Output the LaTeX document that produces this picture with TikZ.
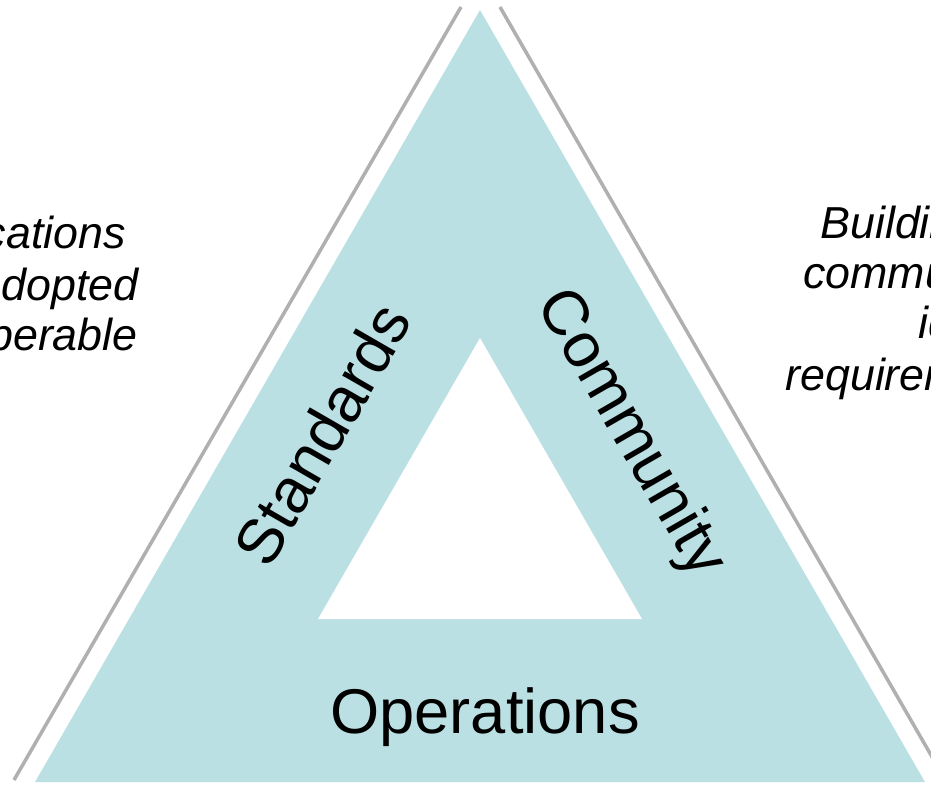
\documentclass[tikz,border=0pt]{standalone}
\usepackage{fontspec}
\setmainfont{Liberation Sans}
\usepackage{tikz}
\usetikzlibrary{positioning}
\definecolor{tealpale}{RGB}{187,224,227}
\definecolor{edgegray}{RGB}{176,176,176}
\tikzset{%
	side/.style   = {edgegray, line width=2pt},
	bigword/.style= {font=\fontsize{36}{40}\selectfont, inner sep=0pt},
	remark/.style = {font=\fontsize{25.5}{29}\selectfont\itshape, inner sep=0pt},
}

\begin{document}
\begin{tikzpicture}[x=0.02cm, y=-0.02cm]
		\clip (0,0) rectangle (931,795);
		\coordinate (top) at (480,10);
		\coordinate (bl) at (35,782);
		\coordinate (br) at (925,782);
		\coordinate (itop) at (480,338);
		\coordinate (ibl) at (318,619);
		\coordinate (ibr) at (642,619);
		\fill[tealpale] (top) -- (bl) -- (br) -- cycle;
		\fill[white] (itop) -- (ibl) -- (ibr) -- cycle;
		\draw[side] (461,7) -- (14,780);
		\draw[side] (500,7) -- (954,795);
		
		\node[bigword, rotate=60] (std) at (322,434) {Standards};
		\node[bigword, rotate=-60] (com) at (630,434) {Community};
		\node[bigword, anchor=base] (ops) at (485,733) {Operations};
		
		\node[remark, anchor=base east] (l1) at (126,248) {cations};
		\node[remark, anchor=base east] (l2) at (139,300) {adopted};
		\node[remark, anchor=base east] (l3) at (138,350) {perable};
		\node[remark, anchor=base west] (r1) at (820,238) {Building};
		\node[remark, anchor=base west] (r2) at (803,288) {commun};
		\node[remark, anchor=base west] (r3) at (918,338) {id};
		\node[remark, anchor=base west] (r4) at (785,390) {requirem};
		\end{tikzpicture}
\end{document}
